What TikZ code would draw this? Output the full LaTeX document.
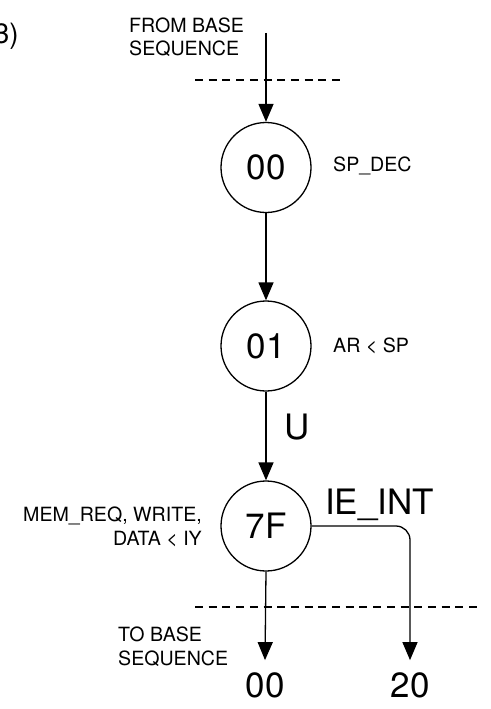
\documentclass[tikz,border=0pt]{standalone}
\usepackage{fontspec}
\setmainfont{TeX Gyre Heros}
\usetikzlibrary{arrows.meta}
\begin{document}
\begin{tikzpicture}[x=1pt,y=-1pt,
  state/.style={draw,circle,line width=1.3pt,minimum size=90pt,inner sep=0pt,font=\fontsize{35}{40}\selectfont},
  big/.style={inner sep=0pt,font=\fontsize{35}{40}\selectfont},
  small/.style={inner sep=0pt,font=\fontsize{19.6}{23.5}\selectfont},
  arr/.style={line width=1.3pt,-{Triangle[length=18pt,width=15pt]}},
  dsh/.style={line width=1.3pt,dash pattern=on 8pt off 5.7pt}]
\useasboundingbox (0,0) rectangle (490,709);
% corner label
\node[anchor=east,inner sep=0pt,font=\fontsize{28}{32}\selectfont] (lbl) at (19,36) {3)};
% states
\node[state] (s00) at (266,167.5) {00};
\node[state] (s01) at (266,346) {01};
\node[state] (s7f) at (266,526) {7F};
% entry
\coordinate (entry) at (266,33);
\node[small,anchor=west,align=left] (from) at (129,37) {FROM BASE\\SEQUENCE};
\draw[dsh] (195,80) -- (340,80);
\draw[arr] (entry) -- (s00.north);
\draw[arr] (s00.south) -- (s01.north);
\draw[arr] (s01.south) -- (s7f.north);
% exits
\node[big,inner ysep=12pt] (o00) at (265,685) {00};
\node[big,inner ysep=12pt] (o20) at (410,685) {20};
\draw[dsh] (195,607) -- (482,607);
\draw[arr] (s7f.south) -- (o00.north);
\draw[arr,rounded corners=14pt] (s7f.east) -| (o20.north);
% labels
\node[small,anchor=west] (l00) at (333,166) {SP\_DEC};
\node[small,anchor=west] (l01) at (333,346) {AR < SP};
\node[big,anchor=west] (lu) at (284,427) {U};
\node[big,anchor=west] (lie) at (325,505) {IE\_INT};
\node[small,anchor=east,align=right] (l7f) at (202,527) {MEM\_REQ, WRITE,\\DATA < IY};
\node[small,anchor=west,align=left] (to) at (118,646.5) {TO BASE\\SEQUENCE};
\end{tikzpicture}
\end{document}
